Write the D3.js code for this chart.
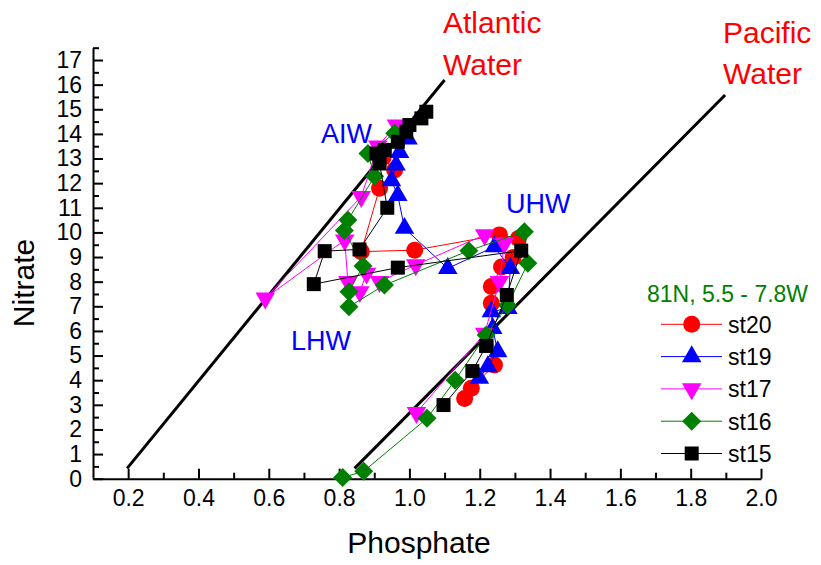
<!DOCTYPE html>
<html>
<head>
<meta charset="utf-8">
<script src="https://cdn.jsdelivr.net/npm/d3@7"></script>
<style>
body { margin: 0; background: #fff; }
text { font-family: "Liberation Sans", Arial, sans-serif; }
</style>
</head>
<body>
<svg id="chart" width="821" height="565"></svg>
<script>
// phosphate, nitrate pairs, in profile order
const st20 = [[1.157,3.26],[1.176,3.67],[1.242,4.62],[1.233,7.12],[1.233,7.8],[1.262,8.6],[1.295,8.98],[1.31,9.75],[1.256,9.9],[1.015,9.28],[0.863,9.22],[0.915,11.79],[0.958,12.53],[0.925,13.05]]
const st19 = [[1.199,4.08],[1.223,4.55],[1.251,5.16],[1.237,6.1],[1.233,6.78],[1.28,6.92],[1.287,8.54],[1.242,9.42],[1.109,8.54],[0.986,10.17],[0.967,11.5],[0.949,12.1],[0.962,12.74],[0.972,13.25],[0.996,13.8]]
const st17 = [[1.02,2.68],[1.214,5.9],[1.256,8.0],[1.27,9.56],[1.214,9.9],[1.018,8.68],[0.915,8.0],[0.878,8.34],[0.859,7.59],[0.825,8.0],[0.816,9.69],[0.59,7.33],[0.863,11.45],[0.91,13.5],[0.963,14.36]]
const st16 = [[0.81,0.05],[0.87,0.3],[1.05,2.45],[1.13,4.0],[1.218,5.83],[1.279,7.04],[1.337,8.75],[1.327,10.03],[1.169,9.26],[0.929,7.86],[0.828,6.98],[0.828,7.59],[0.868,8.64],[0.815,10.08],[0.825,10.5],[0.901,12.28],[0.882,13.2],[0.958,14.03]]
const st15 = [[1.097,2.99],[1.179,4.37],[1.218,5.39],[1.277,7.46],[1.318,9.26],[0.967,8.57],[0.728,7.9],[0.759,9.24],[0.858,9.31],[0.937,11.0],[0.915,12.8],[0.906,13.2],[0.93,13.35],[0.967,13.68],[0.991,14.09],[1.0,14.36],[1.034,14.63],[1.048,14.9]]

const atlanticLine = [[0.197,0.42],[1.1,16.19]]
const pacificLine = [[0.844,0.42],[1.898,15.58]]

const stations = ['st20','st19','st17','st16','st15']
const stationData = [st20, st19, st17, st16, st15]
const stationColors = ['#ff0000','#0000ff','#ff00ff','#008000','#000000']
const stationSymbols = ['circle','triangleUp','triangleDown','diamond','square']

const xMajor = [0.2,0.4,0.6,0.8,1.0,1.2,1.4,1.6,1.8,2.0]
const xMinor = [0.3,0.5,0.7,0.9,1.1,1.3,1.5,1.7,1.9]
const yMajor = d3.range(0, 18)
const yMinor = d3.range(0.5, 18, 1)

const svg = d3.select('#chart')

let x = d3.scaleLinear().domain([0.1, 2.0]).range([93, 761])
let y = d3.scaleLinear().domain([0, 17.5]).range([478.7, 47.7])

let symbolPath = (type) => {
	if (type === 'circle') return d3.symbol(d3.symbolCircle, 227)()
	if (type === 'square') return d3.symbol(d3.symbolSquare, 196)()
	if (type === 'diamond') return d3.symbol(d3.symbolSquare, 180)()
	return d3.symbol(d3.symbolTriangle, 165)()
}
let symbolRotate = (type) => {
	if (type === 'diamond') return 45
	if (type === 'triangleDown') return 180
	return 0
}

// axes, ticks pointing inward
let xAxis = svg.append('g')
	.attr('transform', `translate(0,${y(0)})`)
	.call(d3.axisBottom(x).tickValues(xMajor).tickSize(-10).tickSizeOuter(0).tickPadding(11)
		.tickFormat(d3.format('.1f')))
svg.append('g')
	.attr('transform', `translate(0,${y(0)})`)
	.call(d3.axisBottom(x).tickValues(xMinor).tickSize(-6).tickSizeOuter(0).tickFormat(''))
	.select('.domain').remove()

let yAxis = svg.append('g')
	.attr('transform', `translate(${x(0.1)},0)`)
	.call(d3.axisLeft(y).tickValues(yMajor).tickSize(-10).tickSizeOuter(0).tickPadding(11))
svg.append('g')
	.attr('transform', `translate(${x(0.1)},0)`)
	.call(d3.axisLeft(y).tickValues(yMinor).tickSize(-6).tickSizeOuter(0).tickFormat(''))
	.select('.domain').remove()

svg.selectAll('.domain, .tick line')
	.attr('stroke', '#000')
	.attr('stroke-width', 2)
svg.selectAll('.tick text')
	.attr('font-size', 23)
	.attr('fill', '#000')
	.style('font-family', '"Liberation Sans", Arial, sans-serif')

svg.append('text')
	.text('Phosphate')
	.attr('x', 419)
	.attr('y', 553)
	.attr('text-anchor', 'middle')
	.attr('font-size', 30)

svg.append('text')
	.text('Nitrate')
	.attr('transform', 'translate(34,283) rotate(-90)')
	.attr('text-anchor', 'middle')
	.attr('font-size', 30)

// mixing lines
let line = d3.line().x(d => x(d[0])).y(d => y(d[1]))

;[atlanticLine, pacificLine].forEach(l => {
	svg.append('path')
		.attr('d', line(l))
		.attr('fill', 'none')
		.attr('stroke', '#000')
		.attr('stroke-width', 3)
})

// station profiles
stationData.forEach((data, i) => {
	let g = svg.append('g').attr('class', 'station')
	g.append('path')
		.attr('d', line(data))
		.attr('fill', 'none')
		.attr('stroke', stationColors[i])
		.attr('stroke-width', 1)
	g.selectAll('path.mark')
		.data(data)
		.enter()
		.append('path')
		.attr('class', 'mark')
		.attr('d', symbolPath(stationSymbols[i]))
		.attr('transform', d => `translate(${x(d[0])},${y(d[1])}) rotate(${symbolRotate(stationSymbols[i])})`)
		.attr('fill', stationColors[i])
})

// water mass labels
let labels = [
	{t: 'Atlantic', x: 443, y: 33, c: '#ff0000', s: 30},
	{t: 'Water', x: 443, y: 75, c: '#ff0000', s: 30},
	{t: 'Pacific', x: 723, y: 43, c: '#ff0000', s: 30},
	{t: 'Water', x: 723, y: 84, c: '#ff0000', s: 30},
	{t: 'AIW', x: 321, y: 143, c: '#0000ff', s: 27},
	{t: 'UHW', x: 506, y: 213, c: '#0000ff', s: 27},
	{t: 'LHW', x: 291, y: 350, c: '#0000ff', s: 27}
]
svg.selectAll('text.label')
	.data(labels)
	.enter()
	.append('text')
	.attr('class', 'label')
	.text(d => d.t)
	.attr('x', d => d.x)
	.attr('y', d => d.y)
	.attr('fill', d => d.c)
	.attr('font-size', d => d.s)

// legend
let legend = svg.append('g')
legend.append('text')
	.text('81N, 5.5 - 7.8W')
	.attr('x', 647)
	.attr('y', 301.7)
	.attr('fill', '#008000')
	.attr('font-size', 23)

stations.forEach((name, i) => {
	let cy = 324.3 + i * 32.3
	legend.append('line')
		.attr('x1', 661).attr('x2', 722)
		.attr('y1', cy).attr('y2', cy)
		.attr('stroke', stationColors[i])
		.attr('stroke-width', 1)
	legend.append('path')
		.attr('d', symbolPath(stationSymbols[i]))
		.attr('transform', `translate(691.7,${cy}) rotate(${symbolRotate(stationSymbols[i])})`)
		.attr('fill', stationColors[i])
	legend.append('text')
		.text(name)
		.attr('x', 728)
		.attr('y', cy + 8.3)
		.attr('font-size', 23)
})
</script>
</body>
</html>
